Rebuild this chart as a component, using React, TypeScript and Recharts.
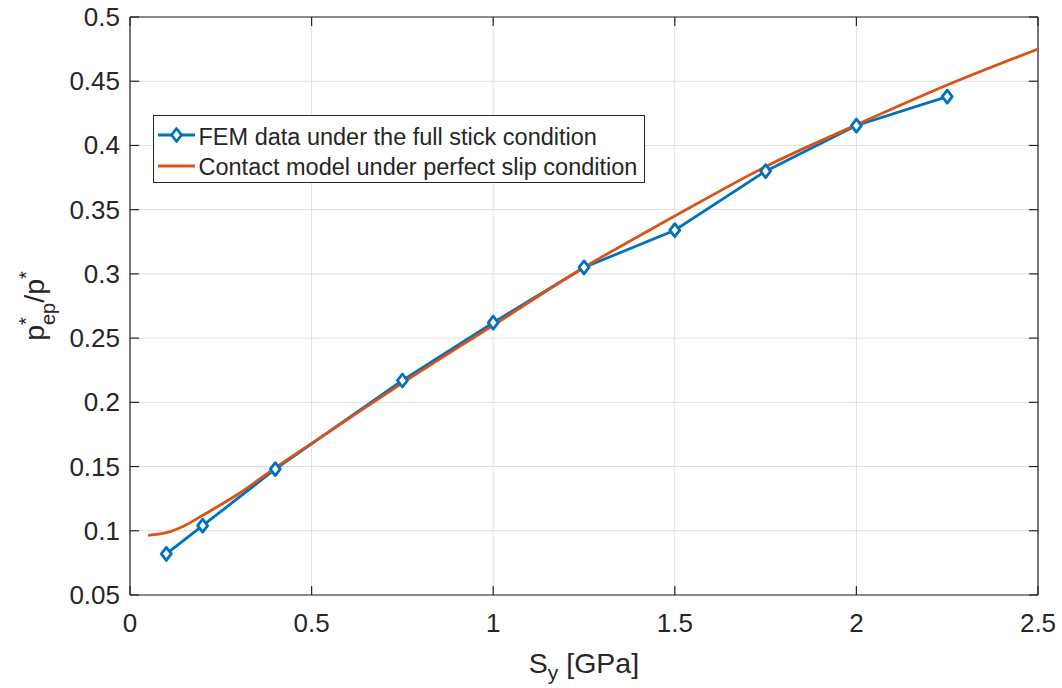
import React from "react";
import { CartesianGrid, Legend, Line, LineChart, ReferenceLine, XAxis, YAxis } from "recharts";

// FEM points (full stick)
const femX = [0.1, 0.2, 0.4, 0.75, 1.0, 1.25, 1.5, 1.75, 2.0, 2.25];
const femY = [0.082, 0.104, 0.148, 0.217, 0.262, 0.305, 0.334, 0.38, 0.4155, 0.438];

// contact model curve (perfect slip)
const modelX = [0.05, 0.1, 0.15, 0.2, 0.3, 0.4, 0.5, 0.75, 1.0, 1.25, 1.5, 1.75, 2.0, 2.25, 2.5];
const modelY = [0.0965, 0.0985, 0.104, 0.112, 0.129, 0.149, 0.168, 0.215, 0.26, 0.305, 0.345, 0.3835, 0.416, 0.447, 0.475];

const xTicks = [0, 0.5, 1, 1.5, 2, 2.5];
const xTickLabels = ["0", "0.5", "1", "1.5", "2", "2.5"];
const yTicks = [0.05, 0.1, 0.15, 0.2, 0.25, 0.3, 0.35, 0.4, 0.45, 0.5];
const yTickLabels = ["0.05", "0.1", "0.15", "0.2", "0.25", "0.3", "0.35", "0.4", "0.45", "0.5"];

const femName = "FEM data under the full stick condition";
const modelName = "Contact model under perfect slip condition";

const femData = femX.map((x, i) => ({ x, y: femY[i] }));
const modelData = modelX.map((x, i) => ({ x, y: modelY[i] }));

const W = 1062;
const H = 688;
const PLOT_L = 130;
const PLOT_R = 1038;
const PLOT_T = 17;
const PLOT_B = 595;
const BLUE = "#0072BD";
const ORANGE = "#D95319";
const AXIS = "#262626";
const FONT = "'Liberation Sans', Arial, Helvetica, sans-serif";
const TICK_LEN = 9;
const LW = 2.8;

const XTick = (props: any) => {
  const { x, payload } = props;
  const i = xTicks.indexOf(payload.value);
  return (
    <g>
      <line x1={x} y1={PLOT_B} x2={x} y2={PLOT_B - TICK_LEN} stroke={AXIS} strokeWidth={1.2} />
      <line x1={x} y1={PLOT_T} x2={x} y2={PLOT_T + TICK_LEN} stroke={AXIS} strokeWidth={1.2} />
      <text x={x} y={PLOT_B + 37} textAnchor="middle" fill={AXIS} fontSize={26} fontFamily={FONT}>
        {i >= 0 ? xTickLabels[i] : payload.value}
      </text>
    </g>
  );
};

const YTick = (props: any) => {
  const { y, payload } = props;
  const i = yTicks.indexOf(payload.value);
  return (
    <g>
      <line x1={PLOT_L} y1={y} x2={PLOT_L + TICK_LEN} y2={y} stroke={AXIS} strokeWidth={1.2} />
      <line x1={PLOT_R} y1={y} x2={PLOT_R - TICK_LEN} y2={y} stroke={AXIS} strokeWidth={1.2} />
      <text x={PLOT_L - 10} y={y + 9} textAnchor="end" fill={AXIS} fontSize={26} fontFamily={FONT}>
        {i >= 0 ? yTickLabels[i] : payload.value}
      </text>
    </g>
  );
};

const diamondPath = (cx: number, cy: number) =>
  `M${cx},${cy - 6.5}L${cx + 5},${cy}L${cx},${cy + 6.5}L${cx - 5},${cy}Z`;

const Diamond = (props: any) => {
  const { cx, cy, index } = props;
  if (cx == null || cy == null) return <g key={`d-${index}`} />;
  return (
    <path
      key={`d-${index}`}
      d={diamondPath(cx, cy)}
      fill="#fff"
      stroke={BLUE}
      strokeWidth={LW}
      strokeLinejoin="round"
    />
  );
};

const YLabel = (props: any) => {
  const cx = 44;
  const cy = (PLOT_T + PLOT_B) / 2;
  return (
    <text
      x={cx}
      y={cy}
      transform={`rotate(-90, ${cx}, ${cy})`}
      textAnchor="middle"
      fill={AXIS}
      fontSize={28.5}
      fontFamily={FONT}
    >
      p
      <tspan fontSize={20} dy={-11}>*</tspan>
      <tspan fontSize={20} dx={-7.8} dy={22}>ep</tspan>
      <tspan dy={-11}>/p</tspan>
      <tspan fontSize={20} dy={-11}>*</tspan>
    </text>
  );
};

const XLabel = (props: any) => {
  const cx = (PLOT_L + PLOT_R) / 2;
  return (
    <text x={cx} y={673} textAnchor="middle" fill={AXIS} fontSize={28.5} fontFamily={FONT}>
      S
      <tspan fontSize={21} dy={7}>y</tspan>
      <tspan dy={-7}> [GPa]</tspan>
    </text>
  );
};

const renderLegend = (props: any) => {
  const { payload } = props;
  return (
    <svg width={492} height={68} style={{ display: "block" }}>
      <rect x={0.5} y={0.5} width={491} height={67} fill="#fff" stroke={AXIS} strokeWidth={1} />
      {(payload || []).map((entry: any, index: number) => {
        const isFem = entry.value === femName;
        const ly = isFem ? 20 : 51;
        const ty = isFem ? 30 : 60;
        return (
          <g key={`item-${index}`}>
            <line x1={5} y1={ly} x2={42} y2={ly} stroke={entry.color} strokeWidth={LW} />
            {isFem && (
              <path d={diamondPath(23.5, ly)} fill="#fff" stroke={BLUE} strokeWidth={LW} strokeLinejoin="round" />
            )}
            <text x={45.5} y={ty} fill={AXIS} fontSize={23.5} fontFamily={FONT}>
              {entry.value}
            </text>
          </g>
        );
      })}
    </svg>
  );
};

const App = () => {
  return (
    <div style={{ position: "absolute", left: 0, top: 0, background: "#fff" }}>
      <LineChart
        width={W}
        height={H}
        margin={{ top: PLOT_T, right: W - PLOT_R, bottom: 33, left: 40 }}
        style={{ fontFamily: FONT }}
      >
        <CartesianGrid stroke="#dfdfdf" strokeWidth={1} />
        <XAxis
          type="number"
          dataKey="x"
          domain={[0, 2.5]}
          ticks={xTicks}
          height={60}
          allowDataOverflow
          tickLine={false}
          tickSize={0}
          tickMargin={0}
          tick={<XTick />}
          axisLine={{ stroke: AXIS, strokeWidth: 1.2 }}
          label={<XLabel />}
        />
        <YAxis
          type="number"
          dataKey="y"
          domain={[0.05, 0.5]}
          ticks={yTicks}
          width={90}
          allowDataOverflow
          tickLine={false}
          tickSize={0}
          tickMargin={0}
          tick={<YTick />}
          axisLine={{ stroke: AXIS, strokeWidth: 1.2 }}
          label={<YLabel />}
        />
        <ReferenceLine y={0.5} stroke={AXIS} strokeWidth={1.2} />
        <ReferenceLine x={2.5} stroke={AXIS} strokeWidth={1.2} />
        <Line
          data={femData}
          dataKey="y"
          name={femName}
          type="linear"
          stroke={BLUE}
          strokeWidth={LW}
          dot={<Diamond />}
          activeDot={false}
          isAnimationActive={false}
        />
        <Line
          data={modelData}
          dataKey="y"
          name={modelName}
          type="monotone"
          stroke={ORANGE}
          strokeWidth={LW}
          dot={false}
          activeDot={false}
          isAnimationActive={false}
        />
        <Legend
          layout="vertical"
          align="center"
          verticalAlign="middle"
          content={renderLegend}
          wrapperStyle={{ position: "absolute", left: 153, top: 115, width: 492, height: 68 }}
        />
      </LineChart>
    </div>
  );
};

export default App;
